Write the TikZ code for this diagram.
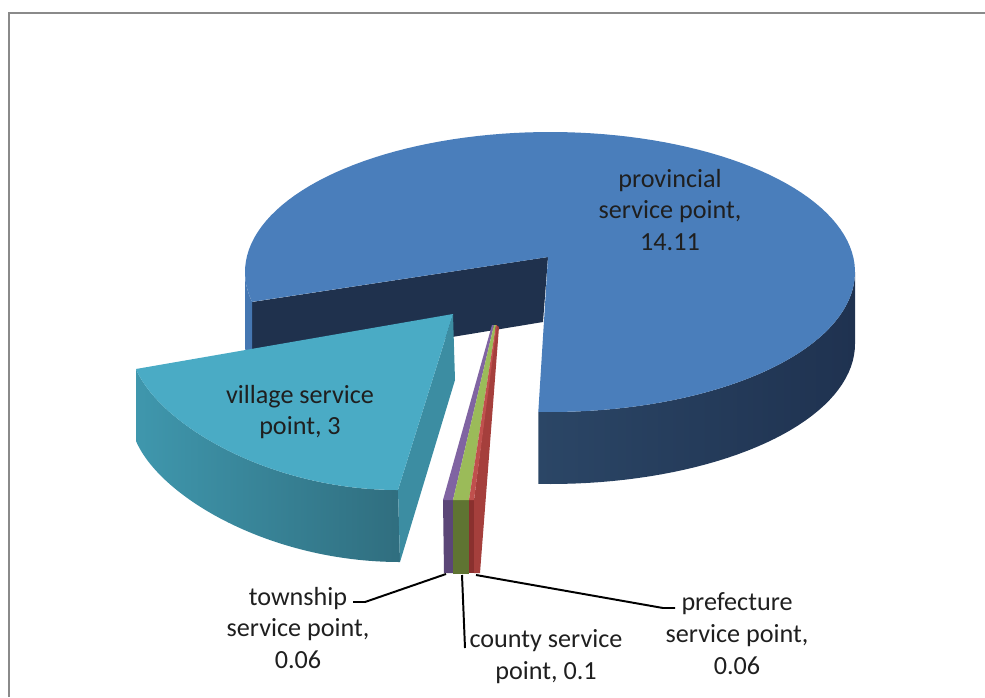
\documentclass[tikz,border=0pt]{standalone}
\usepackage{fontspec}
\setmainfont{Carlito}
\usepackage{xcolor}
\definecolor{provtop}{HTML}{4A7EBB}
\definecolor{provrim}{HTML}{4577B2}
\definecolor{provwall}{HTML}{1F314D}
\definecolor{provsideL}{HTML}{2B4666}
\definecolor{provsideR}{HTML}{1F3250}
\definecolor{viltop}{HTML}{4AABC5}
\definecolor{vilcut}{HTML}{3C8DA2}
\definecolor{vilsideL}{HTML}{3F97AD}
\definecolor{vilsideR}{HTML}{306E7F}
\definecolor{purtop}{HTML}{8064A2}
\definecolor{purside}{HTML}{5B4677}
\definecolor{grntop}{HTML}{9BBB59}
\definecolor{grnside}{HTML}{5F7432}
\definecolor{redtop}{HTML}{C0504D}
\definecolor{redwall}{HTML}{A53F3C}
\definecolor{redside}{HTML}{8A302E}
\definecolor{framegray}{HTML}{8A8A8A}
\usetikzlibrary{positioning}
\tikzset{
 lbl/.style={align=center, font=\fontsize{18.6}{22.7}\selectfont, text=black!88, inner sep=0pt},
 leader/.style={draw=black, line width=1.4pt},
 frame/.style={draw=framegray, line width=2pt},
}

\begin{document}
\begin{tikzpicture}[x=0.025cm, y=-0.025cm]
        \useasboundingbox (0,0) rectangle (985,697);
        \draw [frame] (9,697) -- (9,13) -- (985,13);
        % provincial slice
        \fill [provwall] (548,257) -- (252,302) -- (252,370) -- (543,322) -- cycle;
        \fill [provrim] plot[domain=167.7:180, samples=10] ({550+305*cos(\x)}, {272+140*sin(\x)})
            -- plot[domain=180:167.7, samples=10] ({550+305*cos(\x)}, {344+140*sin(\x)}) -- cycle;
        \shade [left color=provsideL, right color=provsideR]
            plot[domain=0:92.2, samples=40] ({550+305*cos(\x)}, {272+140*sin(\x)})
            -- plot[domain=92.2:0, samples=40] ({550+305*cos(\x)}, {344+140*sin(\x)}) -- cycle;
        \fill [provtop] (548,257) -- plot[domain=167.7:452.2, samples=120] ({550+305*cos(\x)}, {272+140*sin(\x)}) -- cycle;
        % village slice
        \shade [left color=vilsideL, right color=vilsideR]
            (136,369) .. controls (160,425) and (270,490) .. (398,490)
            -- (400,562) .. controls (270,562) and (160,497) .. (136,441) -- cycle;
        \fill [vilcut] (453,314) -- (455,380) -- (400,562) -- (398,490) -- cycle;
        \fill [viltop] (453,314) -- (136,369) .. controls (160,425) and (270,490) .. (398,490) -- cycle;
        % small slices
        \fill [purside] (443,500) -- (453,500) -- (453,573) -- (444,573) -- cycle;
        \fill [grnside] (453,500) -- (469,500) -- (469,574) -- (453,574) -- cycle;
        \fill [redside] (469,500) -- (474,500) -- (474,573) -- (469,573) -- cycle;
        \fill [redwall] (496,325) -- (499,327) -- (480,573) -- (474,573) -- (474,500) -- cycle;
        \fill [purtop] (492,325) -- (443,500) -- (453,500) -- (494,325) -- cycle;
        \fill [grntop] (494,325) -- (453,500) -- (469,500) -- (496,325) -- cycle;
        \fill [redtop] (496,325) -- (469,500) -- (474,500) -- (497,325) -- cycle;
        % labels
        \node [lbl] (prov) at (670,210) {provincial\\service point,\\14.11};
        \node [lbl] (vil) at (300,412) {village service\\point, 3};
        \node [lbl] (twp) at (298,628) {township\\service point,\\0.06};
        \node [lbl] (cty) at (546,657) {county service\\point, 0.1};
        \node [lbl] (pref) at (737,634) {prefecture\\service point,\\0.06};
        \coordinate (twp-tip) at (446,574);
        \coordinate (cty-tip) at (462,575);
        \coordinate (pref-tip) at (476,575);
        \coordinate (twp-end) at (353,602);
        \coordinate (cty-end) at (465,648);
        \coordinate (pref-end) at (675,608);
        \draw [leader] (twp-tip) -- (365,602) -- (twp-end);
        \draw [leader] (cty-tip) -- (cty-end);
        \draw [leader] (pref-tip) -- (663,608) -- (pref-end);
    \end{tikzpicture}
\end{document}
